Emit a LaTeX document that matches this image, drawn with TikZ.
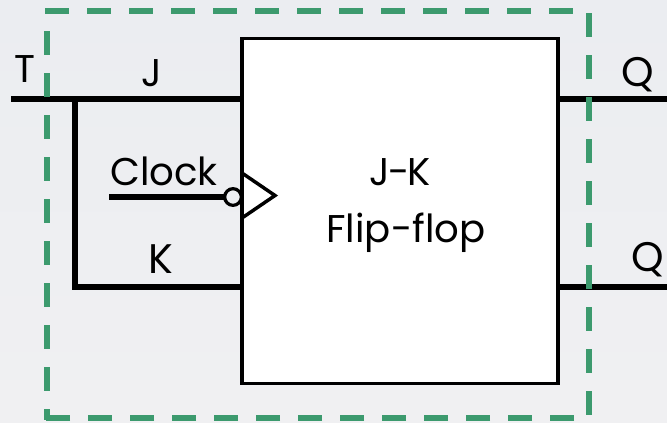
\documentclass[tikz,border=0pt]{standalone}
\usepackage{fontspec}
\setmainfont{Poppins}
\definecolor{bgtop}{HTML}{EBEDF1}
\definecolor{bgbot}{HTML}{F0F0F2}
\definecolor{bgc}{HTML}{EDEFF2}
\definecolor{grn}{HTML}{3C9A6E}
\tikzset{
  x=0.75pt,y=-0.75pt,
  wire/.style={line width=4.5pt,line cap=butt,draw=black},
  thin wire/.style={line width=2.6pt,draw=black},
  label/.style={font=\fontsize{29}{32}\selectfont,text=black,inner sep=0pt},
  biglabel/.style={font=\fontsize{31}{34}\selectfont,text=black,inner sep=0pt},
  blocktext/.style={font=\fontsize{29}{32}\selectfont,text=black,inner sep=0pt,align=center},
  fence/.style={draw=grn,line width=4.5pt,dash pattern=on 18pt off 13.5pt}
}
\begin{document}
\begin{tikzpicture}
\useasboundingbox (0,0) rectangle (667,422);
\fill[top color=bgtop,bottom color=bgbot] (0,0) rectangle (667,422);
\node[draw=black,line width=2.4pt,fill=white,minimum width=237pt,minimum height=258.5pt,inner sep=0pt] (ff) at (400,211) {};
\coordinate (tin) at (11,99);
\coordinate (jp) at (ff.west |- tin);
\coordinate (jn) at (75,99);
\coordinate (kp) at (242,287);
\coordinate (kn) at (75,287);
\coordinate (ck) at (109,197);
\coordinate (q1) at (667,99);
\coordinate (q2) at (667,287);
\draw[wire] (tin) -- (jp);
\draw[wire] (jn) -- (kn) -- (kp);
\draw[wire] (ck) -- (225,197);
\draw[wire] (ff.east |- q1) -- (q1);
\draw[wire] (ff.east |- q2) -- (q2);
\node[circle,draw=black,line width=2.4pt,fill=bgc,minimum size=12.5pt,inner sep=0pt] (bub) at (233,197) {};
\draw[thin wire,line join=miter] (242,173) -- (275,195.5) -- (242,218);
\draw[fence] (45,11) -- (589,11) -- (589,418) -- (45,418);
\draw[fence] (47,31) -- (47,420);
\node[label] (t) at (25,69) {T};
\node[label] (j) at (152,73) {J};
\node[label] (clk) at (164,171) {Clock};
\node[biglabel] (k) at (161,259) {K};
\node[biglabel] (q) at (638,75) {Q};
\node[biglabel] (qb) at (648,260) {Q};
\node[blocktext] (name1) at (400,172) {J\kern-1.5pt-\kern-1.5pt K};
\node[blocktext] (name2) at (406,233) {Flip-flop};
\end{tikzpicture}
\end{document}
